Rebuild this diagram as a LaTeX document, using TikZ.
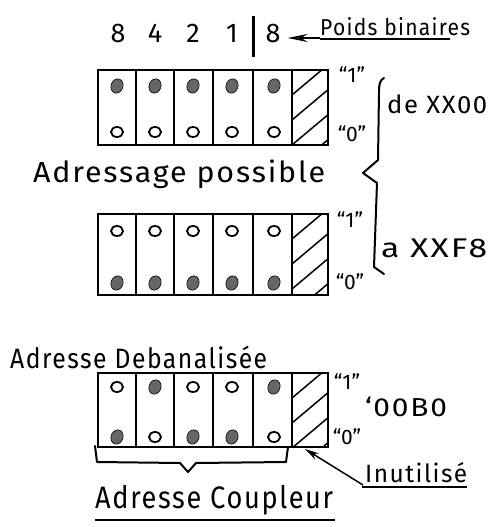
\documentclass[tikz,border=0pt]{standalone}
\usepackage{fontspec}
\usepackage{graphicx}
\setmainfont{Fira Sans}
\usetikzlibrary{arrows.meta}

% a label stretched to a given width, letters spaced out like handwriting
\newcommand\handtext[3]{\resizebox{#1}{\height}{\fontsize{#2}{#2}\selectfont\addfontfeature{LetterSpace=6}#3}}

% one bit position: 1 = filled dot, 0 = empty ring
\newcommand\bitmark[3]{%
  \ifnum#3=1
    \filldraw[fulldot,rotate around={-20:(#1,#2)}] (#1,#2) ellipse [x radius=6, y radius=7.3];
  \else
    \draw[ringdot] (#1,#2) ellipse [x radius=6, y radius=5];
  \fi}

% six-cell switch block: top, bottom, upper dot row, lower dot row, list x/top/bottom
\newcommand\switchbox[5]{%
  \foreach \cx in {136,174,213,292} \draw[divider] (\cx,#1) -- (\cx,#2);
  \draw[middiv] (253,#1) -- (253,#2);
  \begin{scope}
    \clip (292,#1) rectangle (328,#2);
    \foreach \k in {0,1,2,3,4} \draw[hatchline] (292,#1+25*\k) -- ++(38,-32);
  \end{scope}
  \draw[frame] (98,#1) rectangle (328,#2);
  \foreach \cx/\bt/\bb in {#5} {\bitmark{\cx}{#3}{\bt}\bitmark{\cx}{#4}{\bb}}%
}

\begin{document}
\begin{tikzpicture}[x=1pt,y=-1pt,
  frame/.style={line width=2.6pt},
  divider/.style={line width=1.3pt},
  middiv/.style={line width=2.2pt},
  hatchline/.style={line width=1.5pt},
  fulldot/.style={draw=black,line width=0.6pt,fill=black!60},
  ringdot/.style={draw=black,line width=1.8pt},
  brace/.style={line width=2pt,line join=round,line cap=round},
  uline/.style={line width=1.6pt},
  ptr/.style={line width=1.5pt,-{Stealth[length=20pt,width=8pt,fill=black!55]}},
  smallptr/.style={line width=1.5pt,-{Stealth[length=14pt,width=7pt,fill=black!55]}},
  hand/.style={inner sep=0pt,anchor=base west},
  weight/.style={inner sep=0pt,anchor=base,font=\fontsize{27}{27}\selectfont},
  state/.style={inner sep=0pt,font=\fontsize{21}{21}\selectfont}]
\useasboundingbox (0,0) rectangle (497,527);

% binary weights of the switches
\node[weight] (w8) at (118,42) {8};
\node[weight] (w4) at (155,42) {4};
\node[weight] (w2) at (193,42) {2};
\node[weight] (w1) at (232,42) {1};
\node[weight] (w8b) at (273,42) {8};
\draw[line width=3pt] (253,16) -- (253,57);
\node[hand] (poids) at (320,36) {\handtext{150pt}{23}{Poids binaires}};
\draw[uline] ([yshift=-3pt]poids.base west) -- ([yshift=-3pt,xshift=-20pt]poids.base east);
\draw[ptr] ([yshift=-2pt]poids.base west) -- ([xshift=7pt,yshift=-2pt]poids.base west -| w8b.east);

% lowest address
\switchbox{70}{145}{86}{132}{117/1/0,155/1/0,193/1/0,232/1/0,274/1/0}
\node[state] (on1) at (352,75) {``1''};
\node[state] (off1) at (352,134) {``0''};

% brace spanning both settings
\draw[brace] (384,78) .. controls (380,80) and (379,84) .. (379,92) -- (378,160)
  -- (363,173) -- (377,183) -- (374,267) -- (384,274);
\node[hand] (dexx) at (387,113) {\handtext{100pt}{25}{de XX00}};
\node[hand] (axx) at (381,257) {\handtext{106pt}{27}{a XXF8}};
\node[hand] (possible) at (33,182) {\handtext{292pt}{29}{Adressage possible}};

% highest address
\switchbox{214}{295}{231}{283}{117/0/1,155/0/1,193/0/1,232/0/1,274/0/1}
\node[state] (on2) at (350,220) {``1''};
\node[state] (off2) at (350,282) {``0''};

% example setting
\node[hand] (debanal) at (10,368) {\handtext{257pt}{28}{Adresse Debanalisée}};
\switchbox{373}{447}{387}{437}{117/0/1,155/1/0,193/0/1,232/0/1,274/1/0}
\node[state] (on3) at (347,382) {``1''};
\node[state] (off3) at (347,437) {``0''};
\node[inner sep=0pt] (val) at (406,407) {\handtext{82pt}{26}{`00B0}};

% address bits of the coupler
\draw[brace] (95,446) -- (97,462) -- (180,463) -- (188,472) -- (196,463)
  -- (286,462) -- (288,447);
\node[hand] (coupleur) at (95,508) {\handtext{238pt}{31}{Adresse Coupleur}};
\draw[uline] (95,520) -- (335,520);

% unused position
\coordinate (unused) at (305,449);
\node[hand] (inutil) at (365,482) {\handtext{102pt}{25}{Inutilisé}};
\draw[uline] ([yshift=-5pt,xshift=-3pt]inutil.base west) -- ([yshift=-5pt]inutil.base east);
\draw[smallptr] ([yshift=-3pt,xshift=-2pt]inutil.base west) -- (unused);
\end{tikzpicture}
\end{document}
